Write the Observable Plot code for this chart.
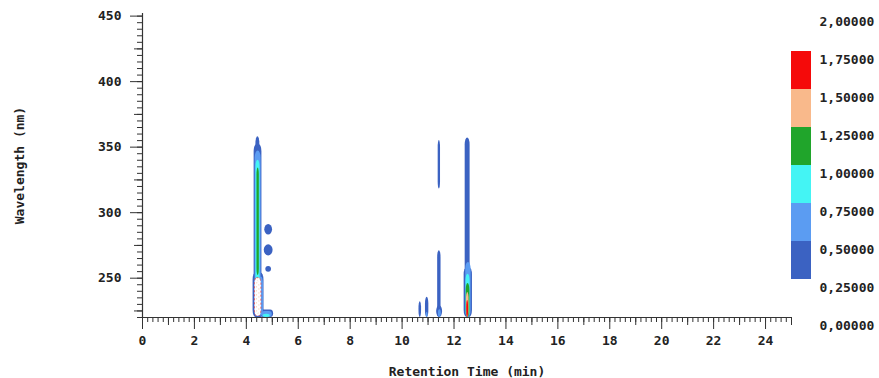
<!DOCTYPE html>
<html><head><meta charset="utf-8">
<script src="https://cdn.jsdelivr.net/npm/d3@7"></script>
<script src="https://cdn.jsdelivr.net/npm/@observablehq/plot@0.6"></script>
<style>
body{margin:0;background:#fff;}
#wrap{position:relative;width:879px;height:378px;overflow:hidden;}
#legend{position:absolute;left:780px;top:0;}
#main{position:absolute;left:0;top:0;}
</style></head><body>
<div id="wrap"><div id="main"></div><div id="legend"></div></div>
<script>
// ---- axis ticks / labels ----
const xMajorTicks = [0, 2, 4, 6, 8, 10, 12, 14, 16, 18, 20, 22, 24];
const yMajorTicks = [250, 300, 350, 400, 450];
const levelValues = [0, 0.25, 0.5, 0.75, 1, 1.25, 1.5, 1.75, 2];
const levelLabels = ["0,00000", "0,25000", "0,50000", "0,75000", "1,00000", "1,25000", "1,50000", "1,75000", "2,00000"];
// contour bands (absorbance)
const bandIds = [1, 2, 3, 4, 5, 6];
const bandLow = [0.25, 0.5, 0.75, 1.0, 1.25, 1.5];
const bandHigh = [0.5, 0.75, 1.0, 1.25, 1.5, 1.75];

// ---- contour regions: time (min), wavelength (nm), band ----
const streakRegions = [
  // peak ~4.45 min
  {t1: 4.30, t2: 4.60, w1: 220, w2: 352, band: 1},
  {t1: 4.37, t2: 4.52, w1: 330, w2: 358, band: 1},
  {t1: 4.26, t2: 4.68, w1: 220, w2: 254, band: 1},
  {t1: 4.55, t2: 5.05, w1: 220, w2: 225.8, band: 1},
  {t1: 4.34, t2: 4.57, w1: 221, w2: 347, band: 2},
  {t1: 4.50, t2: 4.66, w1: 221, w2: 251, band: 2},
  {t1: 4.60, t2: 5.00, w1: 220, w2: 224.5, band: 2},
  {t1: 4.37, t2: 4.53, w1: 222, w2: 340, band: 3},
  {t1: 4.65, t2: 4.92, w1: 220, w2: 222.5, band: 3},
  {t1: 4.41, t2: 4.50, w1: 252, w2: 334, band: 4},
  // peaks ~10.7 – 11.5 min
  {t1: 10.65, t2: 10.75, w1: 220, w2: 232, band: 1},
  {t1: 10.90, t2: 11.03, w1: 220, w2: 235.5, band: 1},
  {t1: 11.37, t2: 11.50, w1: 220, w2: 271, band: 1},
  {t1: 11.33, t2: 11.56, w1: 220, w2: 229, band: 1},
  {t1: 11.39, t2: 11.48, w1: 318, w2: 355, band: 1},
  {t1: 11.40, t2: 11.51, w1: 220, w2: 226, band: 2},
  {t1: 10.93, t2: 11.00, w1: 220, w2: 224, band: 2},
  // peak ~12.5 min
  {t1: 12.43, t2: 12.62, w1: 220, w2: 357, band: 1},
  {t1: 12.39, t2: 12.71, w1: 220, w2: 258, band: 1},
  {t1: 12.45, t2: 12.66, w1: 220, w2: 262, band: 2},
  {t1: 12.46, t2: 12.62, w1: 220, w2: 253, band: 3},
  {t1: 12.47, t2: 12.61, w1: 220, w2: 246, band: 4},
  {t1: 12.48, t2: 12.58, w1: 220, w2: 239, band: 5},
  {t1: 12.49, t2: 12.56, w1: 220, w2: 233, band: 6}
];
const spotRegions = [
  {t1: 4.71, t2: 5.01, w1: 283, w2: 291, band: 1},
  {t1: 4.69, t2: 5.03, w1: 267, w2: 275.5, band: 1},
  {t1: 4.75, t2: 4.97, w1: 254.5, w2: 259, band: 1}
];
// saturated area (> 2.0) with red / orange contour lines
const overRegions = [
  {t1: 4.33, t2: 4.58, w1: 221, w2: 250}
];

const bandColors = ["#3b62c2", "#5b9cf2", "#44f4f4", "#20a52b", "#f9b98b", "#f50a0a"];
const font = "'DejaVu Sans Mono', 'Liberation Mono', monospace";
const ink = "#333";

const main = Plot.plot({
  width: 879, height: 378,
  marginLeft: 142, marginRight: 88, marginTop: 13, marginBottom: 61,
  style: {fontFamily: font, fontSize: "13px", fontWeight: "bold", color: "#222", background: "#fff"},
  x: {domain: [0, 25]},
  y: {domain: [220, 452]},
  color: {type: "ordinal", domain: bandIds, range: bandColors},
  marks: [
    Plot.rect(streakRegions, {x1: "t1", x2: "t2", y1: "w1", y2: "w2", fill: "band", rx: 3, ry: 7}),
    Plot.rect(spotRegions, {x1: "t1", x2: "t2", y1: "w1", y2: "w2", fill: "band", rx: 20, ry: 20}),
    Plot.rect(overRegions, {x1: "t1", x2: "t2", y1: "w1", y2: "w2", fill: "#fff", stroke: "#e84040", strokeWidth: 0.8, strokeDasharray: "2,2", rx: 2, ry: 6}),
    Plot.rect(overRegions, {x1: "t1", x2: "t2", y1: "w1", y2: "w2", fill: "none", stroke: "#f2b585", strokeWidth: 0.8, strokeDasharray: "1,3", rx: 2, ry: 6, insetLeft: 2, insetRight: 2, insetTop: 3, insetBottom: 2}),
    // minor / medium ticks
    Plot.axisX({ticks: d3.range(0, 25.001, 0.2), tickSize: 5, tickFormat: () => "", label: null, stroke: ink}),
    Plot.axisX({ticks: d3.range(1, 25.001, 2), tickSize: 8, tickFormat: () => "", label: null, stroke: ink}),
    Plot.axisX({ticks: xMajorTicks, tickSize: 12, tickPadding: 6, stroke: ink, label: "Retention Time (min)", labelAnchor: "center", labelArrow: "none"}),
    Plot.axisY({ticks: d3.range(220, 452, 5), tickSize: 5, tickFormat: () => "", label: null, stroke: ink}),
    Plot.axisY({ticks: [225, 275, 325, 375, 425], tickSize: 8, tickFormat: () => "", label: null, stroke: ink}),
    Plot.axisY({ticks: yMajorTicks, tickSize: 12, tickPadding: 9, stroke: ink, label: "Wavelength (nm)", labelAnchor: "center", labelOffset: 128, labelArrow: "none"}),
    Plot.ruleX([0], {stroke: ink, strokeWidth: 1.2}),
    Plot.ruleY([220], {stroke: ink, strokeWidth: 1.2})
  ]
});
document.getElementById("main").appendChild(main);

const bands = bandIds.map((b, i) => ({band: b, lo: bandLow[i], hi: bandHigh[i]}));
const legend = Plot.plot({
  width: 99, height: 378,
  marginLeft: 11, marginRight: 68, marginTop: 13, marginBottom: 61,
  style: {fontFamily: font, fontSize: "13px", fontWeight: "bold", color: "#222", background: "transparent", overflow: "visible"},
  x: {axis: null},
  y: {domain: [0, 2], axis: null},
  color: {type: "ordinal", domain: bandIds, range: bandColors},
  marks: [
    Plot.rect(bands, {y1: "lo", y2: "hi", fill: "band"}),
    Plot.text(levelValues, {y: d => d, text: (d, i) => levelLabels[i], frameAnchor: "right", textAnchor: "start", dx: 8, dy: 8, fill: "#222"})
  ]
});
document.getElementById("legend").appendChild(legend);
</script>
</body></html>
